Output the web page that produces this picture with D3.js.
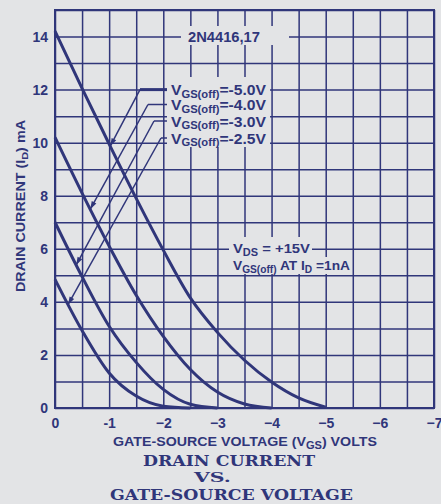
<!DOCTYPE html>
<html>
<head>
<meta charset="utf-8">
<script src="https://cdn.jsdelivr.net/npm/d3@7"></script>
<style>
  html, body { margin: 0; padding: 0; background: #e3e4e6; }
  svg { display: block; }
</style>
</head>
<body>
<svg id="chart" width="441" height="504"></svg>
<script>
// Gate-source voltage sample points (volts)
const vgs = [0, -0.5, -1, -1.5, -2, -2.5, -3, -3.5, -4, -4.5, -5];

// Drain current (mA) for each pinch-off grade
const idOff50 = [14.2, 12.05, 9.95, 7.9, 5.95, 4.15, 2.85, 1.8, 0.98, 0.38, 0.03];
const idOff40 = [10.2, 8.1, 6.1, 4.25, 2.7, 1.45, 0.6, 0.15, 0];
const idOff30 = [7.0, 4.95, 3.08, 1.72, 0.7, 0.14, 0];
const idOff25 = [4.85, 2.92, 1.32, 0.45, 0.07, 0];

// Curve legend labels and the gate voltage where each leader meets its curve
const offValues = ["-5.0V", "-4.0V", "-3.0V", "-2.5V"];
const leaderVgs = [-1.02, -0.65, -0.39, -0.24];

// Axis ticks
const xTicks = [0, -1, -2, -3, -4, -5, -6, -7];
const xTickLabels = ["0", "-1", "\u22122", "\u22123", "\u22124", "\u22125", "\u22126", "\u22127"];
const yTicks = [0, 2, 4, 6, 8, 10, 12, 14];

const ink = "#30367a";
const paper = "#e3e4e6";
const sans = "Liberation Sans, Arial, sans-serif";
const serif = "DejaVu Serif, Liberation Serif, serif";

const svg = d3.select("#chart").attr("font-family", sans);
const L = 55, R = 434, T = 10, B = 408;

const x = d3.scaleLinear().domain([0, -7]).range([L, R]);
const y = d3.scaleLinear().domain([0, 15]).range([B, T]);

// ---- grid (every 0.5 V and every 1 mA) ----
const grid = svg.append("g");
grid.append("g")
  .attr("transform", `translate(0,${B})`)
  .call(d3.axisBottom(x).tickValues(d3.range(0, -7.01, -0.5)).tickSize(-(B - T)).tickFormat(""))
  .call(g => g.select(".domain").remove());
grid.append("g")
  .attr("transform", `translate(${L},0)`)
  .call(d3.axisLeft(y).tickValues(d3.range(0, 15.01, 1)).tickSize(-(R - L)).tickFormat(""))
  .call(g => g.select(".domain").remove());
grid.selectAll("line").attr("stroke", ink).attr("stroke-width", 1.5);

// layer for paper-coloured boxes that interrupt the grid behind text
const maskLayer = svg.append("g");

// frame
svg.append("rect")
  .attr("x", L).attr("y", T).attr("width", R - L).attr("height", B - T)
  .attr("fill", "none").attr("stroke", ink).attr("stroke-width", 2);

// ---- tick labels ----
const xAxis = svg.append("g")
  .attr("transform", `translate(0,${B})`)
  .call(d3.axisBottom(x).tickValues(xTicks).tickSize(0).tickPadding(10)
    .tickFormat((d, i) => xTickLabels[i]));
xAxis.select(".domain").remove();
xAxis.selectAll("text")
  .attr("fill", ink).attr("font-size", 14).attr("font-weight", "bold")
  .attr("font-family", sans);

const yAxis = svg.append("g")
  .attr("transform", `translate(${L},0)`)
  .call(d3.axisLeft(y).tickValues(yTicks).tickSize(0).tickPadding(7));
yAxis.select(".domain").remove();
yAxis.selectAll("text")
  .attr("fill", ink).attr("font-size", 14).attr("font-weight", "bold")
  .attr("font-family", sans);

// ---- transfer curves ----
const line = d3.line()
  .x(d => x(d[0]))
  .y(d => y(d[1]))
  .curve(d3.curveMonotoneX);

const series = [idOff50, idOff40, idOff30, idOff25];
const paths = series.map(s => svg.append("path")
  .datum(s.map((v, i) => [vgs[i], v]))
  .attr("d", line)
  .attr("fill", "none")
  .attr("stroke", ink)
  .attr("stroke-width", 3)
  .attr("stroke-linejoin", "round")
  .node());

// point on a rendered curve at a given pixel x
function pointAtX(path, px) {
  let lo = 0, hi = path.getTotalLength();
  for (let k = 0; k < 40; k++) {
    const mid = (lo + hi) / 2;
    if (path.getPointAtLength(mid).x < px) lo = mid; else hi = mid;
  }
  return path.getPointAtLength((lo + hi) / 2);
}

// ---- legend labels with leaders ----
const rowY = [y(12), 104.5, 121, 138];
const elbowX = [140, 148, 154, 161];
const textX = 171;
const legend = svg.append("g");
offValues.forEach((val, i) => {
  const tip = pointAtX(paths[i], x(leaderVgs[i]));
  const ex = elbowX[i], ey = rowY[i];
  // horizontal stub then diagonal to the curve
  legend.append("line")
    .attr("x1", ex).attr("y1", ey).attr("x2", textX - 4).attr("y2", ey)
    .attr("stroke", ink).attr("stroke-width", i === 0 ? 3 : 1.5);
  legend.append("line")
    .attr("x1", ex).attr("y1", ey).attr("x2", tip.x).attr("y2", tip.y)
    .attr("stroke", ink).attr("stroke-width", 1.5);
  // arrowhead
  const dx = tip.x - ex, dy = tip.y - ey, len = Math.hypot(dx, dy);
  const ux = dx / len, uy = dy / len;
  const bx = tip.x - ux * 8, by = tip.y - uy * 8;
  legend.append("path")
    .attr("d", `M${tip.x},${tip.y}L${bx - uy * 2.6},${by + ux * 2.6}L${bx + uy * 2.6},${by - ux * 2.6}Z`)
    .attr("fill", ink);

  const t = legend.append("text")
    .attr("x", textX).attr("y", ey + 5.5)
    .attr("fill", ink).attr("font-size", 14).attr("font-weight", "bold");
  t.append("tspan").text("V");
  t.append("tspan").attr("font-size", 10).attr("dy", 2.5).text("GS(off)");
  t.append("tspan").attr("dy", -2.5).text("=" + val);
  t.attr("textLength", 95).attr("lengthAdjust", "spacingAndGlyphs");
});
maskLayer.append("rect").attr("x", 167).attr("y", 77).attr("width", 103).attr("height", 70).attr("fill", paper);

// ---- device label ----
maskLayer.append("rect").attr("x", 181).attr("y", 26).attr("width", 108).attr("height", 19).attr("fill", paper);
svg.append("text")
  .attr("x", 188).attr("y", 41.5)
  .attr("fill", ink).attr("font-size", 14).attr("font-weight", "bold")
  .attr("textLength", 72).attr("lengthAdjust", "spacingAndGlyphs")
  .text("2N4416,17");

// ---- test conditions ----
maskLayer.append("rect").attr("x", 229).attr("y", 237).attr("width", 83).attr("height", 21).attr("fill", paper);
maskLayer.append("rect").attr("x", 229).attr("y", 257).attr("width", 122).attr("height", 17).attr("fill", paper);
const c1 = svg.append("text").attr("x", 233).attr("y", 253)
  .attr("fill", ink).attr("font-size", 13.5).attr("font-weight", "bold");
c1.append("tspan").text("V");
c1.append("tspan").attr("font-size", 10).attr("dy", 2.5).text("DS");
c1.append("tspan").attr("dy", -2.5).text(" = +15V");
c1.attr("textLength", 77).attr("lengthAdjust", "spacingAndGlyphs");
const c2 = svg.append("text").attr("x", 233).attr("y", 270)
  .attr("fill", ink).attr("font-size", 13.5).attr("font-weight", "bold");
c2.append("tspan").text("V");
c2.append("tspan").attr("font-size", 10).attr("dy", 2.5).text("GS(off)");
c2.append("tspan").attr("dy", -2.5).text(" AT I");
c2.append("tspan").attr("font-size", 10).attr("dy", 2.5).text("D");
c2.append("tspan").attr("dy", -2.5).text(" =1nA");
c2.attr("textLength", 117).attr("lengthAdjust", "spacingAndGlyphs");

// ---- axis titles ----
const xt = svg.append("text").attr("x", 113).attr("y", 446)
  .attr("fill", ink).attr("font-size", 13.5).attr("font-weight", "bold");
xt.append("tspan").text("GATE-SOURCE VOLTAGE (V");
xt.append("tspan").attr("font-size", 10.5).attr("dy", 2.5).text("GS");
xt.append("tspan").attr("dy", -2.5).text(") VOLTS");
xt.attr("textLength", 264).attr("lengthAdjust", "spacingAndGlyphs");

const yt = svg.append("text")
  .attr("transform", "translate(25,292) rotate(-90)")
  .attr("fill", ink).attr("font-size", 12.5).attr("font-weight", "bold");
yt.append("tspan").text("DRAIN CURRENT (I");
yt.append("tspan").attr("font-size", 9.5).attr("dy", 2.5).text("D");
yt.append("tspan").attr("dy", -2.5).text(") mA");
yt.attr("textLength", 172).attr("lengthAdjust", "spacingAndGlyphs");

// ---- chart title ----
svg.append("text").attr("x", 143).attr("y", 466)
  .attr("font-family", serif).attr("font-weight", "bold").attr("font-size", 15)
  .attr("fill", ink).attr("textLength", 172).attr("lengthAdjust", "spacingAndGlyphs")
  .text("DRAIN CURRENT");
svg.append("text").attr("x", 194).attr("y", 482)
  .attr("font-family", serif).attr("font-weight", "bold").attr("font-size", 12)
  .attr("fill", ink).attr("textLength", 37).attr("lengthAdjust", "spacingAndGlyphs")
  .text("VS.");
svg.append("text").attr("x", 110).attr("y", 500)
  .attr("font-family", serif).attr("font-weight", "bold").attr("font-size", 15)
  .attr("fill", ink).attr("textLength", 243).attr("lengthAdjust", "spacingAndGlyphs")
  .text("GATE-SOURCE VOLTAGE");
</script>
</body>
</html>
